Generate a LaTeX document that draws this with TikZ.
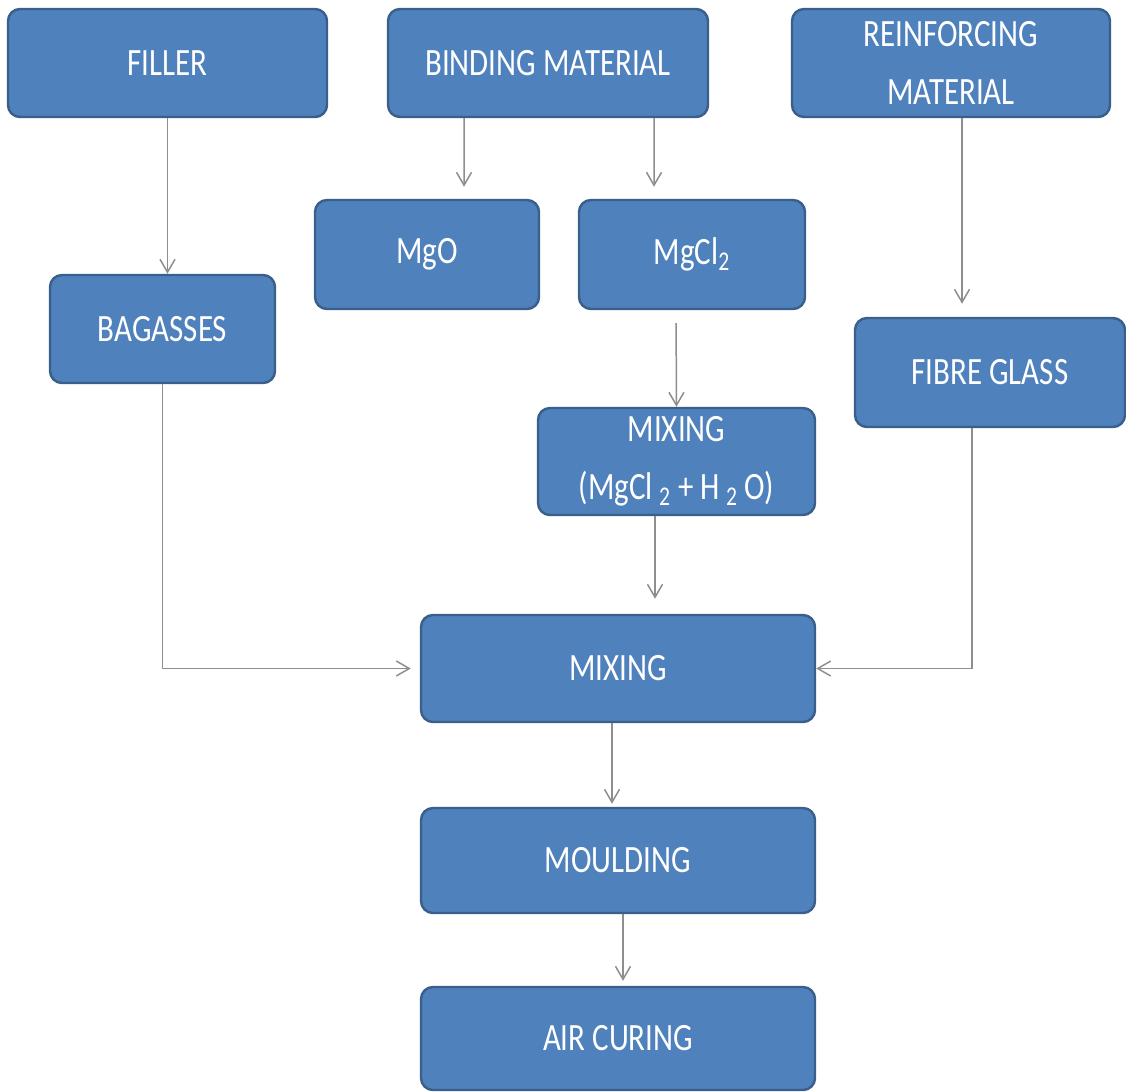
\documentclass[tikz,border=0pt]{standalone}
\usepackage{fontspec}
\setmainfont{Carlito}[FakeStretch=0.8]
\usetikzlibrary{positioning,arrows.meta}
\definecolor{boxfill}{HTML}{4F81BD}
\definecolor{boxline}{HTML}{3A5F8B}
\definecolor{linkgray}{HTML}{8E8E8E}
\begin{document}
\begin{tikzpicture}[box/.style={rectangle, rounded corners=0.24cm, draw=boxline, line width=1.4pt, fill=boxfill, text=white, align=center, font=\fontsize{22}{33}\selectfont},
link/.style={draw=linkgray, line width=0.85pt, -{Straight Barb[length=0.26cm, width=0.3cm]}}]
\useasboundingbox (0,0) rectangle (22.52,-21.82);
\node [box, minimum width=6.38cm, minimum height=2.16cm] (filler) at (3.35,-1.26) {FILLER};
\node [box, minimum width=6.4cm, minimum height=2.16cm] (binding) at (10.96,-1.26) {BINDING MATERIAL};
\node [box, minimum width=6.36cm, minimum height=2.16cm] (reinf) at (19.02,-1.26) {REINFORCING\\MATERIAL};
\node [box, minimum width=4.48cm, minimum height=2.18cm] (mgo) at (8.54,-5.09) {MgO};
\node [box, minimum width=4.52cm, minimum height=2.18cm] (mgcl) at (13.84,-5.09) {MgCl\textsubscript{2}};
\node [box, minimum width=4.5cm, minimum height=2.16cm] (bagasse) at (3.25,-6.58) {BAGASSES};
\node [box, minimum width=5.4cm, minimum height=2.18cm] (fibre) at (19.8,-7.45) {FIBRE GLASS};
\node [box, minimum width=5.54cm, minimum height=2.14cm] (mixwater) at (13.53,-9.23) {MIXING\\(MgCl\,\textsubscript{2} + H\,\textsubscript{2}\,O)};
\node [box, minimum width=7.88cm, minimum height=2.14cm] (mixing) at (12.36,-13.37) {MIXING};
\node [box, minimum width=7.88cm, minimum height=2.1cm] (moulding) at (12.36,-17.21) {MOULDING};
\node [box, minimum width=7.88cm, minimum height=2.06cm] (curing) at (12.36,-20.77) {AIR CURING};
\draw [link] (filler.south) -- (filler.south |- bagasse.north);
\draw [link, shorten >=0.24cm] ([xshift=-1.68cm]binding.south) -- ([xshift=0.74cm]mgo.north);
\draw [link, shorten >=0.24cm] ([xshift=2.12cm]binding.south) -- ([xshift=-0.76cm]mgcl.north);
\draw [link, shorten >=0.26cm] ([xshift=0.22cm]reinf.south) -- ([xshift=-0.56cm]fibre.north);
\draw [link, shorten <=0.26cm] ([xshift=-0.32cm]mgcl.south) -- (mixwater.north);
\draw [link, shorten >=0.3cm] ([xshift=-0.43cm]mixwater.south) -- ([xshift=0.74cm]mixing.north);
\draw [link, shorten >=0.18cm] (bagasse.south) |- (mixing.west);
\draw [link] ([xshift=-0.36cm]fibre.south) |- (mixing.east);
\draw [link, shorten >=0.06cm] ([xshift=-0.12cm]mixing.south) -- ([xshift=-0.12cm]moulding.north);
\draw [link, shorten >=0.1cm] ([xshift=0.1cm]moulding.south) -- ([xshift=0.1cm]curing.north);
\end{tikzpicture}
\end{document}
